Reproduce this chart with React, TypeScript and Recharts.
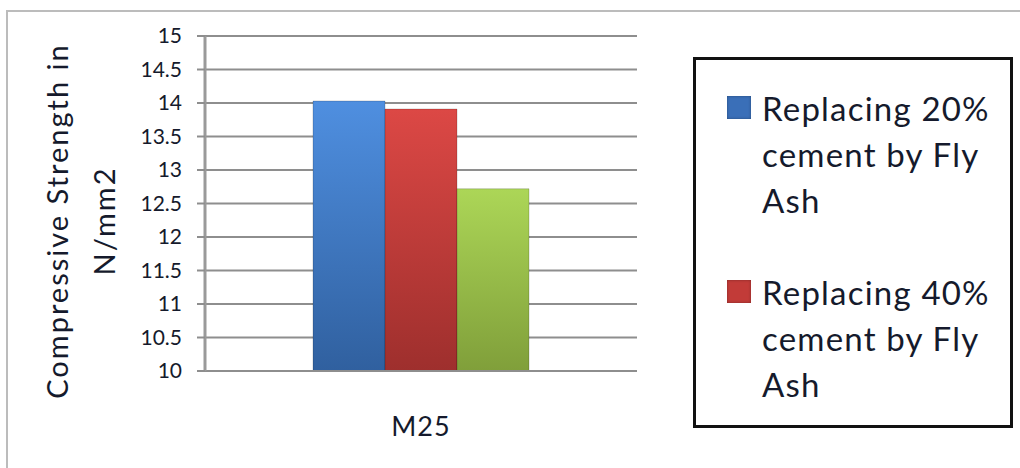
import { Bar, BarChart, CartesianGrid, Legend, XAxis, YAxis } from "recharts";

const CATEGORIES = ["M25"];
const SERIES_NAMES = [
  "Replacing 20% cement by Fly Ash",
  "Replacing 40% cement by Fly Ash",
  "Replacing 60% cement by Fly Ash",
];
const STRENGTH_20 = [14.03];
const STRENGTH_40 = [13.91];
const STRENGTH_60 = [12.72];
const Y_TICKS = [10, 10.5, 11, 11.5, 12, 12.5, 13, 13.5, 14, 14.5, 15];

const SERIES_KEYS = ["s20", "s40", "s60"];
const GRADIENTS = [
  { id: "gBlue", top: "#4f8fe0", bottom: "#30609f", legend: "#3a6fb8" },
  { id: "gRed", top: "#dc4845", bottom: "#9e2f2d", legend: "#c23b38" },
  { id: "gGreen", top: "#acd657", bottom: "#809f3a", legend: "#98be49" },
];

const data = CATEGORIES.map((name, i) => ({
  name,
  s20: STRENGTH_20[i],
  s40: STRENGTH_40[i],
  s60: STRENGTH_60[i],
}));

const FONT = "Lato, 'Open Sans', sans-serif";
const TEXT = "#151a2c";

function AxisTitle() {
  return (
    <g transform="translate(80, 221) rotate(-90)">
      <text
        x={0}
        y={-12}
        textAnchor="middle"
        fontSize={29}
        letterSpacing={2}
        fill={TEXT}
        fontFamily={FONT}
      >
        Compressive Strength in
      </text>
      <text
        x={0}
        y={35}
        textAnchor="middle"
        fontSize={29}
        letterSpacing={2}
        fill={TEXT}
        fontFamily={FONT}
      >
        N/mm2
      </text>
    </g>
  );
}

// only the first two entries fit inside the framed legend
function LegendBox({ payload }: any) {
  const items = (payload ?? []).slice(0, 2);
  return (
    <div
      style={{
        width: 320,
        height: 371,
        border: "3px solid #111",
        boxSizing: "border-box",
        background: "#fff",
        paddingTop: 25,
        fontFamily: FONT,
        fontSize: 33,
        letterSpacing: 1.2,
        color: TEXT,
        lineHeight: "46px",
        textAlign: "left",
      }}
    >
      {items.map((it: any, i: number) => (
        <div key={i} style={{ display: "flex", marginBottom: i === 0 ? 46 : 0 }}>
          <div
            style={{
              width: 24,
              height: 23,
              marginLeft: 31,
              marginTop: 11,
              marginRight: 11,
              flex: "none",
              background: GRADIENTS[i].legend,
              boxShadow: "inset 0 0 3px rgba(0,0,0,0.35)",
            }}
          />
          <div style={{ width: 250 }}>{it.value}</div>
        </div>
      ))}
    </div>
  );
}

export default function App() {
  return (
    <div
      style={{
        position: "absolute",
        left: 0,
        top: 0,
        width: 1020,
        height: 468,
        background: "#fff",
        overflow: "hidden",
      }}
    >
      <div
        style={{
          position: "absolute",
          left: 6,
          top: 10,
          width: 1100,
          height: 600,
          borderLeft: "2px solid #bcbcbc",
          borderTop: "2px solid #bcbcbc",
        }}
      />
      <div style={{ position: "absolute", left: 0, top: 0 }}>
        <BarChart
          width={1020}
          height={468}
          data={data}
          margin={{ top: 36, right: 383, bottom: 37, left: 0 }}
          barCategoryGap={108}
          barGap={0}
        >
          <defs>
            {GRADIENTS.map((g) => (
              <linearGradient key={g.id} id={g.id} x1="0" y1="0" x2="0" y2="1">
                <stop offset="0%" stopColor={g.top} />
                <stop offset="100%" stopColor={g.bottom} />
              </linearGradient>
            ))}
          </defs>
          <CartesianGrid vertical={false} stroke="#8e8e8e" strokeWidth={2} />
          <XAxis
            dataKey="name"
            height={60}
            axisLine={{ stroke: "#8e8e8e", strokeWidth: 2 }}
            tickLine={false}
            tick={{ fontSize: 27, fill: TEXT, fontFamily: FONT, letterSpacing: 1, dy: 38 }}
          />
          <YAxis
            width={205}
            domain={[10, 15]}
            ticks={Y_TICKS}
            interval={0}
            allowDataOverflow
            axisLine={{ stroke: "#9a9a9a", strokeWidth: 3 }}
            tickLine={{ stroke: "#8e8e8e", strokeWidth: 2 }}
            tickSize={8}
            tickMargin={15}
            tick={{ fontSize: 21, fill: TEXT, fontFamily: FONT }}
            label={<AxisTitle />}
          />
          <Legend
            layout="horizontal"
            verticalAlign="middle"
            align="center"
            content={<LegendBox />}
            wrapperStyle={{ left: 693, top: 57, width: 320 }}
          />
          {SERIES_KEYS.map((k, i) => (
            <Bar
              key={k}
              dataKey={k}
              name={SERIES_NAMES[i]}
              fill={`url(#${GRADIENTS[i].id})`}
              stroke="rgba(0,0,0,0.18)"
              strokeWidth={1}
              isAnimationActive={false}
            />
          ))}
        </BarChart>
      </div>
    </div>
  );
}
